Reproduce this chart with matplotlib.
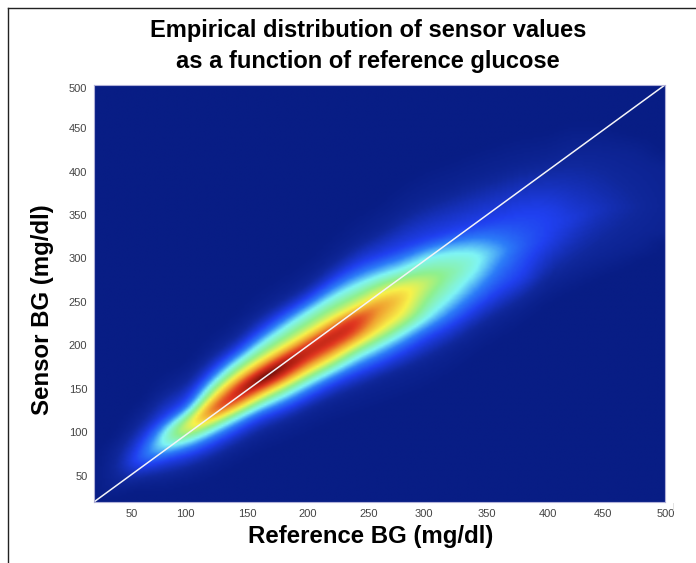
import numpy as np
import matplotlib
matplotlib.use('Agg')
import matplotlib.pyplot as plt
from matplotlib.colors import LinearSegmentedColormap
from matplotlib.lines import Line2D
from matplotlib.transforms import ScaledTranslation

plt.rcParams['font.family'] = ['Liberation Sans', 'DejaVu Sans']

nan = float('nan')
ref_ticks = [50, 100, 150, 200, 250, 300, 350, 400, 450, 500]
sensor_ticks = [50, 100, 150, 200, 250, 300, 350, 400, 450, 500]
unity = [20, 500]

# one entry per reference value: ridge height, peak level and
# the distance from the ridge at which each colour band starts, above and below it
ref_cols = [20, 40, 60, 80, 100, 120, 140, 160, 180, 200, 220, 240, 260, 280, 300, 320, 340, 360, 380, 400, 420, 440, 460, 480, 500]
ridge = [40, 58, 72, 92, 108, 128, 144, 162, 178, 195, 210, 227, 246, 258, 272, 285, 298, 308, 318, 335, 345, 355, 360, 360, 360]
peak = [0, .05, .2, .38, .62, .88, .97, 1.08, 1.02, .92, .92, .90, .76, .65, .52, .42, .35, .26, .18, .145, .125, .095, .07, .05, .035]
up_faint = [nan, 27, 46, 58, 54, 64, 68, 76, 77, 77, 85, 91, 88, 97, 98, 95, 94, 93, 92, 80, 83, 75, 65, 60, 45]
up_blue = [nan, nan, 13, 26, 25, 43, 49, 55, 59, 59, 65, 65, 56, 54, 50, 45, 40, 38, 36, 20, nan, nan, nan, nan, nan]
up_cyan = [nan, nan, nan, 8, 14, 28, 37, 40, 43, 44, 46, 42, 34, 30, 30, 22, 10, nan, nan, nan, nan, nan, nan, nan, nan]
up_yellow = [nan, nan, nan, nan, 4, 13, 20, 19, 18, 17, 19, 15, 14, 10, nan, nan, nan, nan, nan, nan, nan, nan, nan, nan, nan]
up_red = [nan, nan, nan, nan, nan, 3, 10, 11, 12, 11, 11, 10, nan, nan, nan, nan, nan, nan, nan, nan, nan, nan, nan, nan, nan]
lo_faint = [nan, 23, 27, 44, 52, 60, 61, 63, 68, 71, 73, 79, 86, 88, 90, 88, 82, 76, 70, 65, 63, 60, 55, 45, 30]
lo_blue = [nan, nan, 12, 22, 33, 41, 42, 44, 51, 54, 54, 59, 67, 65, 62, 62, 55, 45, 40, 15, nan, nan, nan, nan, nan]
lo_cyan = [nan, nan, nan, 10, 17, 24, 26, 31, 35, 37, 39, 40, 46, 43, 40, 30, 15, nan, nan, nan, nan, nan, nan, nan, nan]
lo_yellow = [nan, nan, nan, nan, 6, 14, 17, 19, 22, 24, 25, 25, 29, 23, nan, nan, nan, nan, nan, nan, nan, nan, nan, nan, nan]
lo_red = [nan, nan, nan, nan, nan, 6, 9, 12, 14, 12, 12, 13, nan, nan, nan, nan, nan, nan, nan, nan, nan, nan, nan, nan, nan]
band_levels = [.03, .14, .32, .58, .85]


def columnProfile(k, offs):
    # density across the ridge for one table column
    lo = [lo_faint[k], lo_blue[k], lo_cyan[k], lo_yellow[k], lo_red[k]]
    up = [up_faint[k], up_blue[k], up_cyan[k], up_yellow[k], up_red[k]]
    xs, ys = [], []
    for d, lev in zip(lo, band_levels):
        if d == d:
            if not xs:
                xs.append(-1.4 * d)
                ys.append(0)
            xs.append(-d)
            ys.append(lev)
    xs.append(0)
    ys.append(peak[k])
    far = None
    for d, lev in reversed(list(zip(up, band_levels))):
        if d == d:
            xs.append(d)
            ys.append(lev)
            far = d
    if far is not None:
        xs.append(1.4 * far)
        ys.append(0)
    return np.interp(offs, xs, ys, left=0, right=0)


def smooth(a, sigma):
    # plain gaussian blur along the first axis, hides the joins between table columns
    t = np.arange(-int(3 * sigma), int(3 * sigma) + 1)
    g = np.exp(-0.5 * (t / sigma) ** 2)
    g = g / g.sum()
    return np.apply_along_axis(lambda v: np.convolve(v, g, mode='same'), 0, a)


offs = np.arange(-160, 161, 2.0)
sens = np.arange(10, 511, 2.0)
refs = np.arange(10, 511, 2.0)
prof = np.array([columnProfile(k, offs) for k in range(len(ref_cols))])
density = np.zeros((len(sens), len(refs)))
for i, r in enumerate(refs):
    # follow the ridge between table columns so the band stays smooth
    p = np.array([np.interp(r, ref_cols, prof[:, m]) for m in range(len(offs))])
    density[:, i] = np.interp(sens, np.interp(r, ref_cols, ridge) + offs, p, left=0, right=0)
density = smooth(smooth(density, 1.5).T, 4).T

jet_like = LinearSegmentedColormap.from_list('jet_like', [
    (0.00, '#081d85'), (0.05, '#10289c'), (0.14, '#2040f0'), (0.22, '#2c7cf8'),
    (0.32, '#7ff5f5'), (0.44, '#8ef08e'), (0.58, '#f8f24a'), (0.72, '#f0a030'),
    (0.85, '#e03520'), (0.93, '#a81c10'), (1.00, '#2a0505'),
])

fig = plt.figure(figsize=(6.96, 5.63), dpi=100)
W, H = 696.0, 563.0
ax = fig.add_axes([94.3 / W, 1 - 501.7 / H, 571.0 / W, 417.0 / H])
ax.imshow(density, origin='lower', extent=[9, 511, 9, 511], cmap=jet_like,
          vmin=0, vmax=1, interpolation='bilinear', aspect='auto')
ax.plot(unity, unity, color='#f4f4f8', lw=1.1)
ax.set_xlim(20, 500)
ax.set_ylim(20, 500)
ax.set_xticks(ref_ticks)
ax.set_yticks(sensor_ticks)
ax.tick_params(length=0, labelsize=8, labelcolor='#444444')
ax.tick_params(axis='x', pad=5)
ax.tick_params(axis='y', pad=5)
for s in ax.spines.values():
    s.set_color('#b0b0d8')
    s.set_linewidth(0.8)

# the tick labels sit a few pixels off the true tick in the original
label_nudge = [1.7, -4.5, -2, -0.5, 1, -3.5, 0, 1.5, -3, 0]
for lab, dx in zip(ax.get_xticklabels(), label_nudge):
    lab.set_transform(lab.get_transform() + ScaledTranslation(dx / 100, 0, fig.dpi_scale_trans))
ylabs = ax.get_yticklabels()
ylabs[-1].set_transform(ylabs[-1].get_transform() + ScaledTranslation(0, -3 / 100, fig.dpi_scale_trans))

fig.text(368 / W, 1 - 31 / H, 'Empirical distribution of sensor values', ha='center', va='center',
         fontsize=17, fontweight='bold', color='black')
fig.text(368 / W, 1 - 61 / H, 'as a function of reference glucose', ha='center', va='center',
         fontsize=17, fontweight='bold', color='black')
fig.text(371 / W, 1 - 537 / H, 'Reference BG (mg/dl)', ha='center', va='center',
         fontsize=17.3, fontweight='bold', color='black')
fig.text(43 / W, 1 - 310 / H, 'Sensor BG (mg/dl)', ha='center', va='center', rotation=90,
         fontsize=17.3, fontweight='bold', color='black')

# frame of the original figure, only left and top are inside the crop
fig.add_artist(Line2D([7.5 / W, 7.5 / W], [0, 1 - 7.5 / H], color='#222222', lw=1.0))
fig.add_artist(Line2D([7.5 / W, 1], [1 - 7.5 / H, 1 - 7.5 / H], color='#222222', lw=1.0))
fig.add_artist(Line2D([672.7 / W, 672.7 / W], [1 - 510 / H, 1 - 503 / H], color='#dddddd', lw=0.6))

fig.savefig('out.png', dpi=100)
